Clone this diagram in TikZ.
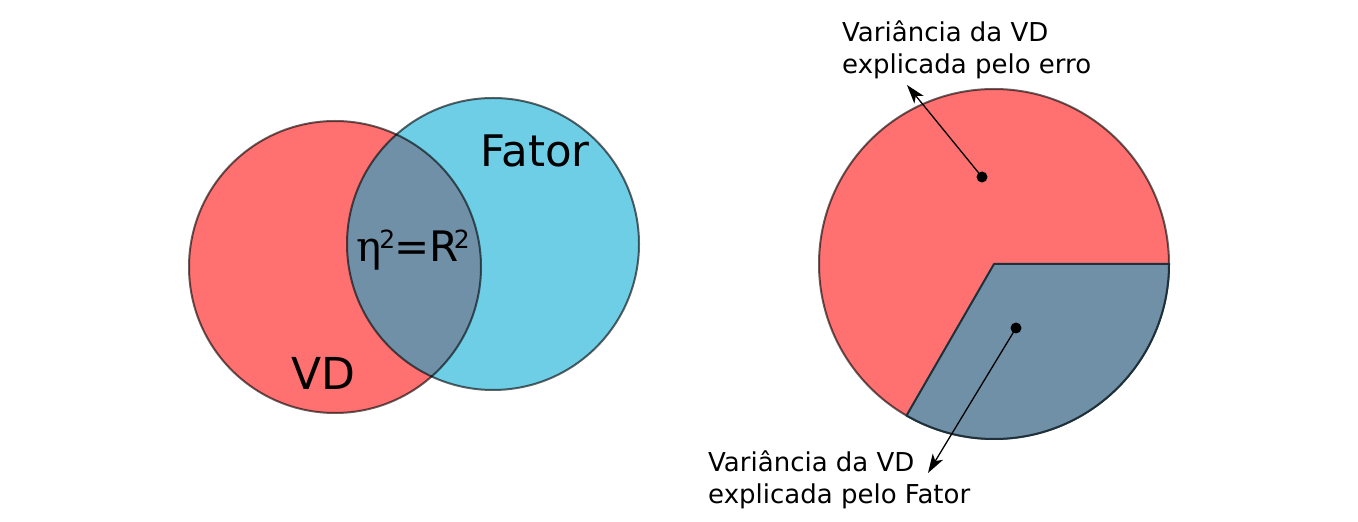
\documentclass[tikz,border=0pt]{standalone}
\usepackage{fontspec}
\setmainfont{DejaVu Sans}
\newfontfamily\etafont{DejaVu Serif}
\usetikzlibrary{arrows.meta}
\definecolor{vdred}{RGB}{255,112,112}
\definecolor{fatblue}{RGB}{110,206,230}
\definecolor{ovl}{RGB}{112,144,167}
\definecolor{wedgeline}{RGB}{30,48,58}
\tikzset{
  outline/.style={draw=black, draw opacity=0.6, line width=2pt},
  lbl/.style={inner sep=0pt, align=left, anchor=base west, font=\fontsize{26}{32}\selectfont},
  dotmark/.style={circle, fill=black, inner sep=0pt, minimum size=11pt},
  pointer/.style={line width=1.3pt, -{Stealth[length=19pt,width=12pt,inset=5pt]}}
}
\begin{document}
\begin{tikzpicture}[x=1pt,y=1pt]
\useasboundingbox (0,0) rectangle (1358,522);
% Venn diagram
\fill[vdred] (335,255) circle[radius=146pt];
\fill[fatblue] (493,278) circle[radius=146pt];
\begin{scope}
  \clip (335,255) circle[radius=146pt];
  \fill[ovl] (493,278) circle[radius=146pt];
\end{scope}
\draw[outline] (335,255) circle[radius=146pt];
\draw[outline] (493,278) circle[radius=146pt];
\node[inner sep=0pt, anchor=base, font=\fontsize{43.5}{50}\selectfont] (fator) at (535,355.5) {Fator};
\node[inner sep=0pt, anchor=base, font=\fontsize{44}{50}\selectfont] (vd) at (323,132) {VD};
\node[inner sep=0pt, anchor=base, font=\fontsize{42}{48}\selectfont] (eta) at (413,260)
  {{\etafont η}\kern-0.05em\raisebox{0.33em}{\fontsize{25}{25}\selectfont 2}\kern-0.02em=R\kern-0.12em\raisebox{0.33em}{\fontsize{25}{25}\selectfont 2}};
% Pie
\fill[vdred] (994,258) circle[radius=175pt];
\draw[outline] (994,258) circle[radius=175pt];
\path[fill=ovl, draw=wedgeline, line width=2pt, line join=round]
  (994,258) -- ++(0:175pt) arc[start angle=0, end angle=-120, radius=175pt] -- cycle;
\node[dotmark] (d1) at (982,345) {};
\node[dotmark] (d2) at (1016,194) {};
\coordinate (t1) at (907,437);
\coordinate (t2) at (928,49);
\draw[pointer] (d1.center) -- (t1);
\draw[pointer] (d2.center) -- (t2);
\node[lbl] (l1) at (842,448) {Variância da VD\\explicada pelo erro};
\node[lbl] (l2) at (708,18) {Variância da VD\\explicada pelo Fator};
\end{tikzpicture}
\end{document}
